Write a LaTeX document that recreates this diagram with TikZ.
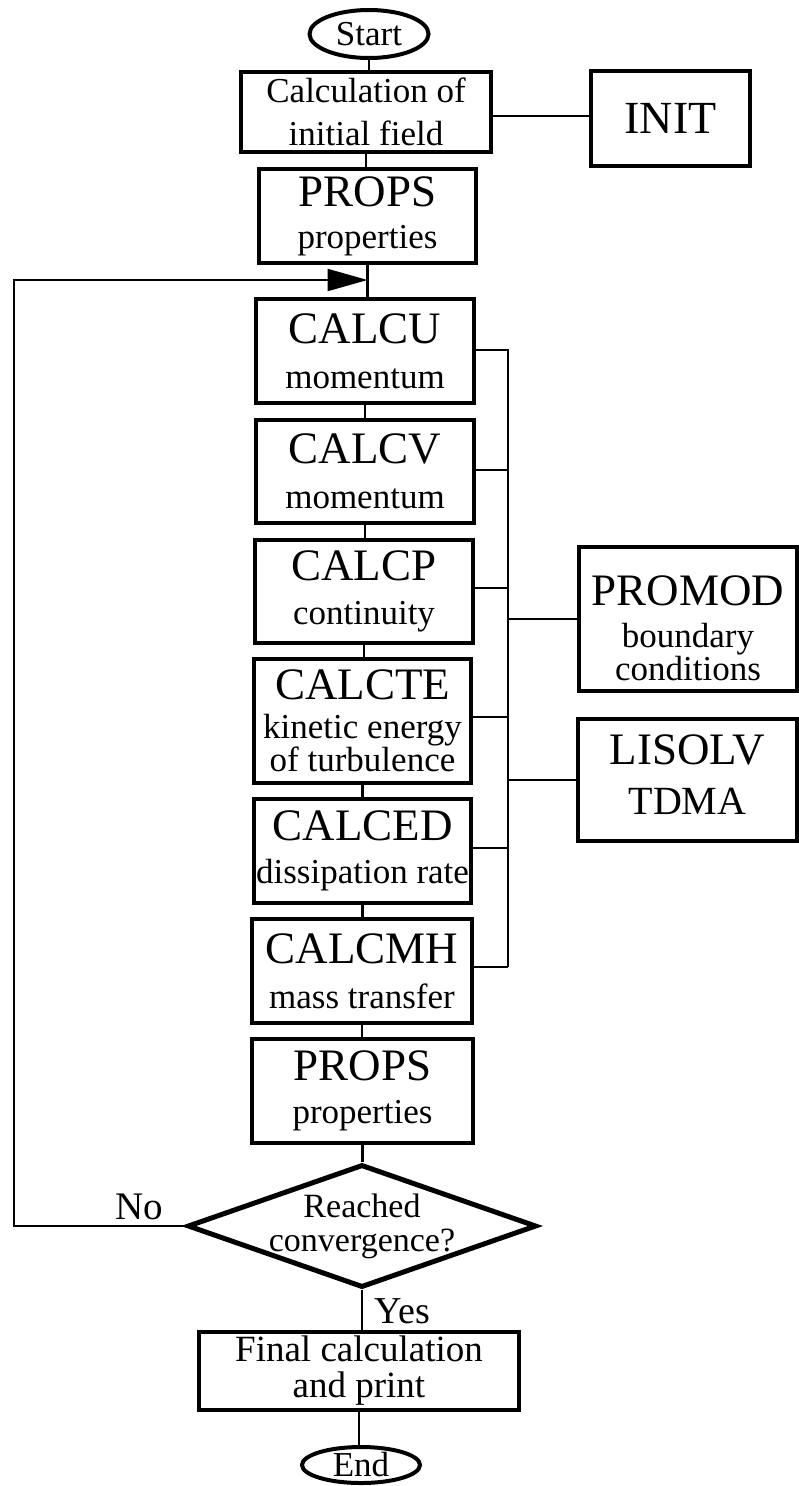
\documentclass[tikz,border=0pt]{standalone}
\usepackage{fontspec}
\setmainfont{Liberation Serif}
\usetikzlibrary{shapes.geometric,arrows.meta}
\newcommand\bigtxt{\fontsize{45}{45}\selectfont}
\begin{document}
\begin{tikzpicture}[x=1pt,y=-1pt,
  box/.style={draw,rectangle,line width=4pt,inner sep=0pt,align=center},
  term/.style={draw,ellipse,line width=4pt,inner sep=0pt,font=\fontsize{35}{35}\selectfont},
  conn/.style={line width=2.2pt},
  lbl/.style={inner sep=0pt,font=\fontsize{39}{39}\selectfont}]
\useasboundingbox (0,0) rectangle (799,1486);

% main column
\node[term,minimum width=119pt,minimum height=48pt] (start) at (369,34) {Start};
\node[box,minimum width=250pt,minimum height=80pt,font=\fontsize{35}{43}\selectfont] (calc) at (366,112) {Calculation of\\initial field};
\node[box,minimum width=159pt,minimum height=95pt,font=\fontsize{46}{46}\selectfont] (init) at (670.5,118.5) {INIT};
\node[box,minimum width=217pt,minimum height=94pt,font=\fontsize{35}{42}\selectfont] (props1) at (367.5,216) {{\bigtxt PROPS}\\properties};
\node[box,minimum width=218pt,minimum height=104pt,font=\fontsize{35}{45}\selectfont] (calcu) at (365,351) {{\bigtxt CALCU}\\momentum};
\node[box,minimum width=218pt,minimum height=103pt,font=\fontsize{35}{45}\selectfont] (calcv) at (365,471.5) {{\bigtxt CALCV}\\momentum};
\node[box,minimum width=218pt,minimum height=103pt,font=\fontsize{35}{44}\selectfont] (calcp) at (364,591.5) {{\bigtxt CALCP}\\continuity};
\node[box,minimum width=217pt,minimum height=124pt,font=\fontsize{35}{33}\selectfont] (calcte) at (362.5,721) {{\bigtxt CALCTE}\\[6pt]kinetic energy\\of turbulence};
\node[box,minimum width=217pt,minimum height=104pt,font=\fontsize{35}{43}\selectfont] (calced) at (362.5,851) {{\bigtxt CALCED}\\dissipation rate};
\node[box,minimum width=220pt,minimum height=104pt,font=\fontsize{35}{45}\selectfont] (calcmh) at (362,971) {{\bigtxt CALCMH}\\mass transfer};
\node[box,minimum width=221pt,minimum height=104pt,font=\fontsize{35}{43}\selectfont] (props2) at (362.5,1091) {{\bigtxt PROPS}\\properties};
\node[draw,diamond,line width=5pt,minimum width=349pt,minimum height=123pt,inner sep=0pt] (dia) at (362,1226) {};
\node[inner sep=0pt,align=center,font=\fontsize{34}{34}\selectfont] (diatxt) at (dia.center) {Reached\\convergence?};
\node[box,minimum width=320pt,minimum height=78pt,font=\fontsize{37}{36}\selectfont] (final) at (359,1371) {Final calculation\\and print};
\node[term,minimum width=118pt,minimum height=36pt] (end) at (361,1465) {End};

% right column
\node[box,minimum width=218pt,minimum height=144pt,font=\fontsize{35}{33}\selectfont] (promod) at (688,619) {\rule{0pt}{48pt}{\bigtxt PROMOD}\\[9pt]boundary\\conditions};
\node[box,minimum width=219pt,minimum height=122pt,font=\fontsize{40}{50}\selectfont] (lisolv) at (687.5,780) {{\bigtxt LISOLV}\\TDMA\rule[-10pt]{0pt}{10pt}};

% labels
\node[lbl] (no) at (139,1206.5) {No};
\node[lbl,font=\fontsize{38}{38}\selectfont] (yes) at (402.5,1311) {Yes};

% main connectors
\foreach \a/\b in {start/calc,calc/props1,props1/calcu,calcu/calcv,calcv/calcp,calcp/calcte,calcte/calced,calced/calcmh,calcmh/props2,props2/dia,dia/final,final/end}
  \draw[conn] (\a.south) -- (\a.south |- \b.north);

% INIT tie
\draw[conn] ([yshift=-4pt]calc.east) -- ([yshift=-4pt]calc.east -| init.west);

% feedback loop
\coordinate (loopc) at (14,280);
\coordinate (join) at (367.5,280);
\draw[conn,-{Triangle[length=40pt,width=22pt]}] (dia.west) -| (loopc) -- (join);

% bus
\coordinate (busbot) at (508,967);
\draw[conn] ([yshift=1pt]calcu.east) -| (busbot);
\draw[conn] ([yshift=1.5pt]calcv.east) -- ([yshift=1.5pt]calcv.east -| busbot);
\draw[conn] ([yshift=3.5pt]calcp.east) -- ([yshift=3.5pt]calcp.east -| busbot);
\draw[conn] ([yshift=4pt]calcte.east) -- ([yshift=4pt]calcte.east -| busbot);
\draw[conn] ([yshift=3pt]calced.east) -- ([yshift=3pt]calced.east -| busbot);
\draw[conn] ([yshift=4pt]calcmh.east) -- (busbot);
\draw[conn] (promod.west) -- (promod.west -| busbot);
\draw[conn] (lisolv.west) -- (lisolv.west -| busbot);
\end{tikzpicture}
\end{document}
